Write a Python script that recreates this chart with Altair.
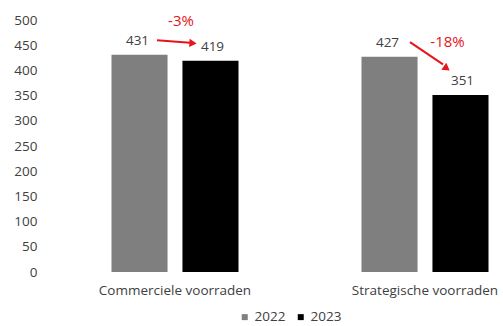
import altair as alt
import pandas as pd

# ---- data ----
categories = ["Commerciele voorraden", "Strategische voorraden"]
years = ["2022", "2023"]
values_2022 = [431, 427]
values_2023 = [419, 351]

# change annotations (red)
change_labels = ["-3%", "-18%"]
change_label_pos = [0.54, 0.65]      # fraction across the category band
change_label_val = [499, 456]        # in y units

arrow_start_pos = [0.38, 0.40]
arrow_end_pos = [0.60, 0.62]
arrow_start_val = [460, 456]
arrow_end_val = [455, 412]
arrow_tip_pos = [0.62, 0.645]
arrow_tip_val = [454, 404]
arrow_angle = [4, 36]

FONT = "Open Sans"
TEXT = "#404040"
RED = "#e8141c"

rows = []
for c, a, b in zip(categories, values_2022, values_2023):
    rows.append({"cat": c, "year": years[0], "val": a})
    rows.append({"cat": c, "year": years[1], "val": b})
bars_df = pd.DataFrame(rows)

lab_df = pd.DataFrame({"cat": categories, "pos": change_label_pos,
                       "val": change_label_val, "txt": change_labels})
line_rows = []
for c, p0, p1, v0, v1 in zip(categories, arrow_start_pos, arrow_end_pos,
                             arrow_start_val, arrow_end_val):
    line_rows.append({"cat": c, "pos": p0, "val": v0, "o": 0})
    line_rows.append({"cat": c, "pos": p1, "val": v1, "o": 1})
line_df = pd.DataFrame(line_rows)
tip_df = pd.DataFrame({"cat": categories, "pos": arrow_tip_pos,
                       "val": arrow_tip_val, "ang": arrow_angle})

xenc = alt.X("cat:N", sort=categories, title=None,
             scale=alt.Scale(paddingInner=0.4, paddingOuter=0.1, align=1),
             axis=alt.Axis(labelAngle=0, domain=False, ticks=False,
                           labelPadding=11, labelFontSize=13.5,
                           labelColor=TEXT, labelFont=FONT))
yenc = alt.Y("val:Q", title=None,
             scale=alt.Scale(domain=[0, 500]),
             axis=alt.Axis(values=list(range(0, 501, 50)), domain=False,
                           ticks=False, grid=False, labelPadding=13,
                           labelOverlap=False,
                           labelFontSize=13.5, labelColor=TEXT,
                           labelFont=FONT))

bars = alt.Chart(bars_df).mark_bar().encode(
    x=xenc,
    xOffset=alt.XOffset("year:N", sort=years,
                        scale=alt.Scale(paddingInner=0.21, paddingOuter=0.162)),
    y=yenc,
    color=alt.Color("year:N", sort=years,
                    scale=alt.Scale(domain=years, range=["#7f7f7f", "#000000"]),
                    legend=alt.Legend(title=None, orient="none",
                                      direction="horizontal",
                                      legendX=188, legendY=290,
                                      symbolType="square", symbolSize=36,
                                      labelFontSize=13.5, labelColor=TEXT,
                                      labelFont=FONT, labelOffset=3,
                                      columnPadding=8, symbolStrokeWidth=0)),
)

vals = alt.Chart(bars_df).mark_text(baseline="bottom", dy=-7, fontSize=13.5,
                                    font=FONT, color=TEXT).encode(
    x=xenc,
    xOffset=alt.XOffset("year:N", sort=years),
    y=yenc,
    text="val:Q",
)

pct = alt.Chart(lab_df).mark_text(fontSize=15, font=FONT, color=RED).encode(
    x=xenc,
    xOffset=alt.XOffset("pos:Q", scale=alt.Scale(domain=[0, 1])),
    y=yenc,
    text="txt:N",
)

arrows = alt.Chart(line_df).mark_line(color=RED, strokeWidth=2).encode(
    x=xenc,
    xOffset=alt.XOffset("pos:Q", scale=alt.Scale(domain=[0, 1])),
    y=yenc,
    detail="cat:N",
    order="o:Q",
)

tips = alt.Chart(tip_df).mark_point(shape="triangle-right", filled=True,
                                    color=RED, size=70, opacity=1).encode(
    x=xenc,
    xOffset=alt.XOffset("pos:Q", scale=alt.Scale(domain=[0, 1])),
    y=yenc,
    angle=alt.Angle("ang:Q", scale=None),
)

chart = alt.layer(bars, vals, pct, arrows, tips).resolve_scale(
    xOffset="independent"
).properties(
    width=450, height=252,
    background="white",
    autosize=alt.AutoSizeParams(type="none"),
    padding={"left": 50, "top": 20, "right": 3, "bottom": 54},
).configure_view(stroke=None)

chart.save("out.html", embed_options={"renderer": "svg", "actions": False})
